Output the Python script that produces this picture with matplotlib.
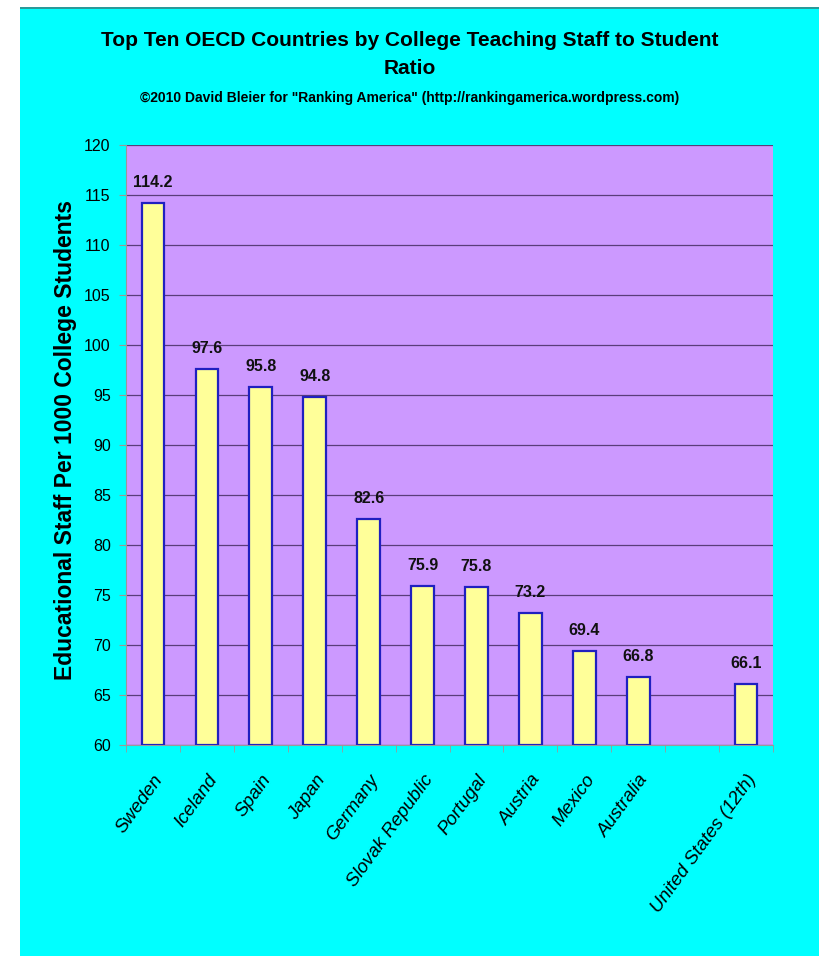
import matplotlib
matplotlib.use("Agg")
import matplotlib.pyplot as plt
from matplotlib.patches import Rectangle
import numpy as np

# ---------------------------------------------------------------------
# Data
# ---------------------------------------------------------------------
countries = ["Sweden", "Iceland", "Spain", "Japan", "Germany",
             "Slovak Republic", "Portugal", "Austria", "Mexico",
             "Australia", "", "United States (12th)"]
staff_ratio = [114.2, 97.6, 95.8, 94.8, 82.6, 75.9, 75.8, 73.2, 69.4,
               66.8, None, 66.1]
y_ticks = [60, 65, 70, 75, 80, 85, 90, 95, 100, 105, 110, 115, 120]

ARIAL = ["Liberation Sans", "DejaVu Sans"]

# ---------------------------------------------------------------------
# Figure
# ---------------------------------------------------------------------
fig = plt.figure(figsize=(8.19, 9.56), dpi=100, facecolor="white")

# cyan chart area with the darker top edge (behind the axes)
fig.patches.append(Rectangle((20 / 819, 0), 1, 1 - 7 / 956,
                             transform=fig.transFigure, facecolor="#00ffff",
                             edgecolor="none", zorder=-2))
fig.patches.append(Rectangle((20 / 819, 1 - 9 / 956), 1, 2 / 956,
                             transform=fig.transFigure, facecolor="#2a9a9a",
                             edgecolor="none", zorder=-1))

ax = fig.add_axes([126 / 819, 1 - 745 / 956, 647 / 819, 600 / 956])
ax.set_zorder(1)
ax.set_facecolor("#cc99ff")

x = np.arange(len(countries))
for xi, v in zip(x, staff_ratio):
    if v is None:
        continue
    ax.bar(xi, v - 60, bottom=60, width=0.42, color="#ffff99",
           edgecolor="#2020c0", linewidth=1.6, zorder=3)
    ax.text(xi, v + 1.3, f"{v:.1f}", ha="center", va="bottom",
            fontsize=11.5, fontweight="bold", family=ARIAL, color="#111111")

ax.set_xlim(-0.5, len(countries) - 0.5)
ax.set_ylim(60, 120)
ax.set_yticks(y_ticks)
ax.set_yticklabels([str(t) for t in y_ticks], family=ARIAL, fontsize=11.5)
ax.yaxis.grid(True, color="#5a3d7a", linewidth=0.9, zorder=1)
ax.set_axisbelow(True)

ax.set_xticks(x)
ax.set_xticklabels(countries, rotation=54, ha="right",
                   rotation_mode="anchor", fontsize=13.5, style="italic",
                   family=ARIAL)
ax.tick_params(axis="x", length=0, pad=19)
ax.set_xticks(np.arange(-0.5, len(countries)), minor=True)
ax.tick_params(axis="x", which="minor", length=5, color="#999999")
ax.tick_params(axis="y", length=5, color="#999999", pad=6)

for side in ["top", "right"]:
    ax.spines[side].set_visible(False)
for side in ["left", "bottom"]:
    ax.spines[side].set_color("#999999")

ax.set_ylabel("Educational Staff Per 1000 College Students", fontsize=16.5,
              fontweight="bold", family=ARIAL)
ax.yaxis.set_label_coords(-0.076, 0.508)

# ---------------------------------------------------------------------
# Titles
# ---------------------------------------------------------------------
fig.text(0.5, 1 - 40 / 956,
         "Top Ten OECD Countries by College Teaching Staff to Student",
         ha="center", va="center", fontsize=15, fontweight="bold",
         family=ARIAL)
fig.text(0.5, 1 - 68 / 956, "Ratio", ha="center", va="center",
         fontsize=15, fontweight="bold", family=ARIAL)
fig.text(0.5, 1 - 98 / 956,
         "\u00a92010 David Bleier for \"Ranking America\" "
         "(http://rankingamerica.wordpress.com)",
         ha="center", va="center", fontsize=10, fontweight="bold",
         family=ARIAL)

fig.savefig("out.png", dpi=100, facecolor=fig.get_facecolor())
